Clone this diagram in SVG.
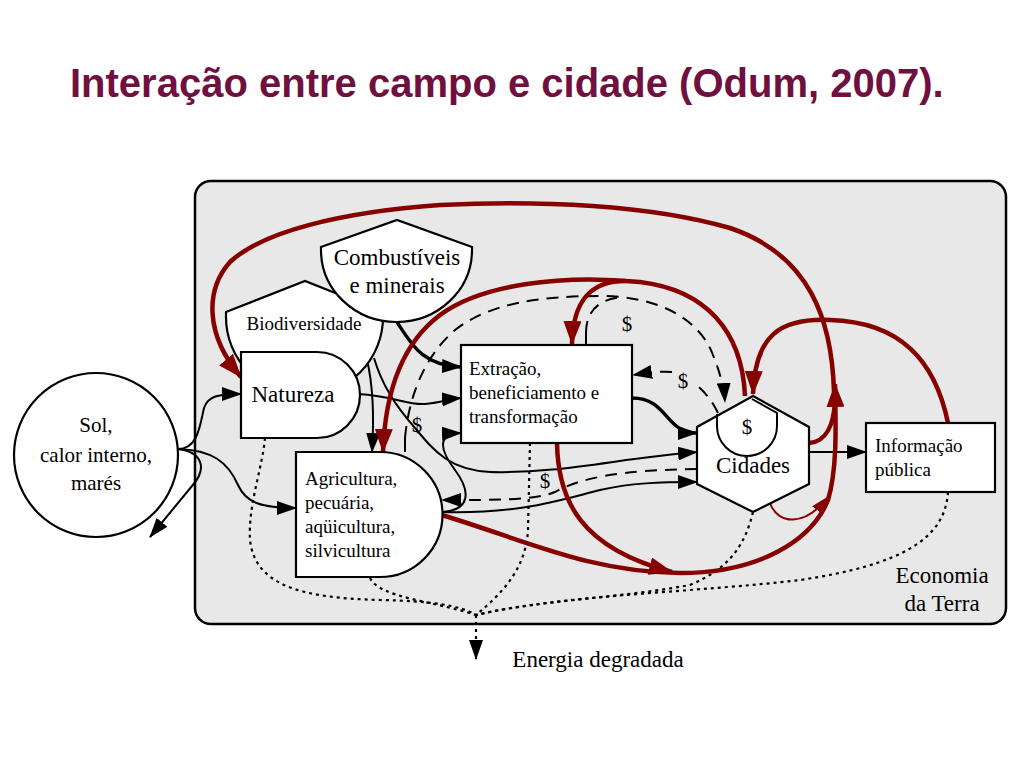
<svg xmlns="http://www.w3.org/2000/svg" width="1024" height="768" viewBox="0 0 1024 768">
<style>
.t{font-family:"Liberation Serif","Times New Roman",serif;fill:#000}
.node{fill:#fff;stroke:#000;stroke-width:2.2}
.s{fill:none;stroke:#000;stroke-width:2}
.sk{fill:none;stroke:#000;stroke-width:3.4}
.ds{fill:none;stroke:#000;stroke-width:2;stroke-dasharray:12 8}
.dt{fill:none;stroke:#000;stroke-width:2.2;stroke-dasharray:3 4}
.r{fill:none;stroke:#870000;stroke-width:4.5}
.rt{fill:none;stroke:#870000;stroke-width:2}
</style>
<defs>
<marker id="ab" viewBox="0 0 20 14" refX="19" refY="7" markerWidth="20" markerHeight="14" orient="auto" markerUnits="userSpaceOnUse"><path d="M0,0 L20,7 L0,14 Z" fill="#000"/></marker>
<marker id="ar" viewBox="0 0 24 18" refX="23" refY="9" markerWidth="24" markerHeight="18" orient="auto" markerUnits="userSpaceOnUse"><path d="M0,0 L24,9 L0,18 Z" fill="#870000"/></marker>
<marker id="ars" viewBox="0 0 18 14" refX="17" refY="7" markerWidth="18" markerHeight="14" orient="auto" markerUnits="userSpaceOnUse"><path d="M0,0 L18,7 L0,14 Z" fill="#870000"/></marker>
</defs>
<rect width="1024" height="768" fill="#fff"/>
<text x="70" y="97" font-family="Liberation Sans, Arial, sans-serif" font-weight="bold" font-size="40" fill="#6F1040">Interação entre campo e cidade (Odum, 2007).</text>

<rect id="economia" x="195" y="181" width="811" height="443" rx="16" fill="#E8E8E8" stroke="#000" stroke-width="2.5"/>
<text class="t" x="942" y="583" font-size="23" text-anchor="middle">Economia</text>
<text class="t" x="942" y="611" font-size="23" text-anchor="middle">da Terra</text>

<g id="connectors">
<!-- dotted heat sinks -->
<path class="dt" d="M265,438 C262,470 248,505 250,540 C255,585 300,598 380,600 C430,601 460,605 476,615"/>
<path class="dt" d="M370,578 C380,598 430,600 476,615"/>
<path class="dt" d="M530,443 L528,530 C526,570 500,595 476,615"/>
<path class="dt" d="M753,512 C745,545 730,568 690,585 C620,598 540,600 476,615"/>
<path class="dt" d="M948,492 C945,540 900,565 800,580 C700,592 560,595 476,615"/>
<path class="dt" d="M476,615 L476,659" marker-end="url(#ab)"/>

<!-- black solid -->
<path class="s" d="M178,449 C198,449 200,425 204,408 C208,396 218,394 241,394" marker-end="url(#ab)"/>
<path class="s" d="M178,449 C212,450 228,462 238,485 C246,503 262,508 296,508" marker-end="url(#ab)"/>
<path class="s" d="M178,449 C202,452 208,468 192,486 L150,537" marker-end="url(#ab)"/>
<path class="s" d="M358,394 C395,396 405,405 425,404 C440,403 448,399 461,398" marker-end="url(#ab)"/>
<path class="s" d="M367,360 C373,385 374,420 372,452" marker-end="url(#ab)"/>
<path class="s" d="M374,358 C382,385 395,405 415,428 C435,452 450,470 490,472 C560,474 620,458 697,452" marker-end="url(#ab)"/>
<path class="s" d="M442,512 C472,510 470,490 455,470 C440,450 436,434 461,433" marker-end="url(#ab)"/>
<path class="s" d="M442,512 C520,514 560,500 600,490 C630,483 660,482 697,482" marker-end="url(#ab)"/>
<path class="s" d="M809,452 L866,452" marker-end="url(#ab)"/>
<path class="sk" d="M397,322 C412,345 422,365 461,367" marker-end="url(#ab)"/>
<path class="sk" d="M632,398 C668,398 665,433 697,433" marker-end="url(#ab)"/>

<!-- dashed money -->
<path class="ds" d="M697,469 C620,470 580,478 555,492 C535,500 500,500 442,500" marker-end="url(#ab)"/>
<path class="ds" d="M718,413 C712,400 703,390 695,384"/>
<path class="ds" d="M672,372 C660,371 645,373 633,375" marker-end="url(#ab)"/>
<path class="s" d="M405,452 L405,438"/>
<path class="ds" d="M405,438 C408,405 420,360 455,330 C490,303 540,296 600,296 C660,296 700,320 713,355 C720,372 724,388 725,402" marker-end="url(#ab)"/>
<path class="s" d="M586,345 L586,333"/>
<path class="ds" d="M586,333 C586,312 598,298 625,297"/>

<!-- red feedbacks -->
<path class="r" d="M834,392 C832,320 810,255 730,228 C650,205 540,200 440,205 C340,212 262,232 230,262 C205,290 205,335 241,377" marker-end="url(#ar)"/>
<path class="r" d="M809,443 C826,442 834,425 835,400"/>
<path class="r" d="M442,515 C530,542 590,572 680,573 C760,573 812,540 828,500 C837,470 836,430 835,384" marker-end="url(#ar)"/>
<path class="r" d="M557,443 C558,500 580,548 672,572" marker-end="url(#ar)"/>
<path class="r" d="M745,396 C742,330 705,290 640,282 C560,274 480,285 440,315 C400,345 385,395 383,452" marker-end="url(#ar)"/>
<path class="r" d="M625,281 C595,281 573,296 572,344" marker-end="url(#ar)"/>
<path class="r" d="M948,423 C935,360 900,322 830,320 C780,318 755,335 753,394" marker-end="url(#ar)"/>
<path class="rt" d="M770,503 C778,525 805,527 828,497" marker-end="url(#ars)"/>

<text class="t" x="627" y="331" font-size="21" text-anchor="middle">$</text>
<text class="t" x="683" y="388" font-size="21" text-anchor="middle">$</text>
<text class="t" x="417" y="432" font-size="21" text-anchor="middle">$</text>
<text class="t" x="545" y="488" font-size="21" text-anchor="middle">$</text>
</g>

<g id="sol">
<circle class="node" cx="96" cy="455" r="82"/>
<text class="t" x="96" y="432" font-size="21" text-anchor="middle">Sol,</text>
<text class="t" x="96" y="462" font-size="21" text-anchor="middle">calor interno,</text>
<text class="t" x="96" y="490" font-size="21" text-anchor="middle">marés</text>
</g>

<g id="biodiversidade">
<path class="node" d="M226,312 L305,281 L383,312 L383,317 A78.5,78.5 0 0 1 226,317 Z"/>
<text class="t" x="304" y="330" font-size="19" text-anchor="middle">Biodiversidade</text>
</g>

<g id="combustiveis">
<path class="node" d="M321,247 L397,220 L472,247 L472,250 A75.5,72 0 0 1 321,250 Z"/>
<text class="t" x="397" y="265" font-size="23" text-anchor="middle">Combustíveis</text>
<text class="t" x="397" y="293" font-size="23" text-anchor="middle">e minerais</text>
</g>

<g id="natureza">
<path class="node" d="M241,352 H317 A43,43 0 0 1 317,438 H241 Z"/>
<text class="t" x="293" y="402" font-size="23" text-anchor="middle">Natureza</text>
</g>

<g id="agricultura">
<path class="node" d="M296,452 H380 A62.5,62.5 0 0 1 380,577 H296 Z"/>
<text class="t" x="305" y="485" font-size="19">Agricultura,</text>
<text class="t" x="305" y="509" font-size="19">pecuária,</text>
<text class="t" x="305" y="533" font-size="19">aqüicultura,</text>
<text class="t" x="305" y="557" font-size="19">silvicultura</text>
</g>

<g id="extracao">
<rect class="node" x="461" y="345" width="171" height="98"/>
<text class="t" x="469" y="375" font-size="19">Extração,</text>
<text class="t" x="469" y="399" font-size="19">beneficiamento e</text>
<text class="t" x="469" y="423" font-size="19">transformação</text>
</g>

<g id="cidades">
<path class="node" d="M753,396 L809,427 L809,484 L753,512 L697,484 L697,427 Z"/>
<path fill="none" stroke="#000" stroke-width="2" d="M717,414 L717,426 A30,30 0 0 0 777,426 L777,413 L752,399"/>
<text class="t" x="747" y="434" font-size="21" text-anchor="middle">$</text>
<text class="t" x="753" y="473" font-size="23" text-anchor="middle">Cidades</text>
</g>

<g id="informacao">
<rect class="node" x="866" y="423" width="129" height="69"/>
<text class="t" x="875" y="452" font-size="19">Informação</text>
<text class="t" x="875" y="476" font-size="19">pública</text>
</g>

<text class="t" x="598" y="667" font-size="23" text-anchor="middle">Energia degradada</text>
</svg>
